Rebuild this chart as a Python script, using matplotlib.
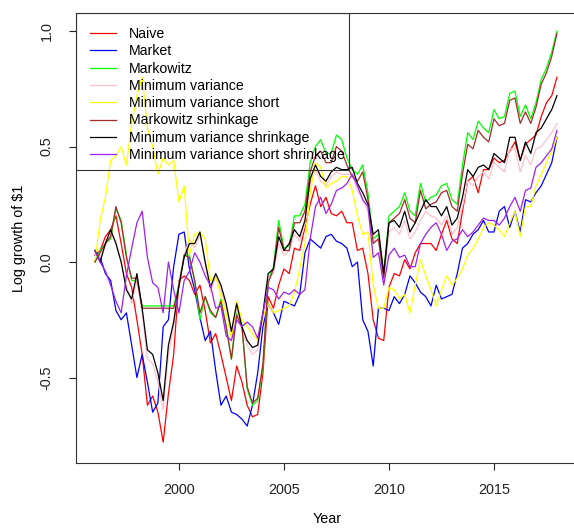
import numpy as np
import matplotlib
matplotlib.use("Agg")
import matplotlib.pyplot as plt
from matplotlib.patches import Rectangle

plt.rcParams['font.family'] = ['Liberation Sans', 'DejaVu Sans']
plt.rcParams['axes.unicode_minus'] = False

# quarterly grid, 1996 .. 2018
years = np.arange(1996.0, 2018.01, 0.25)

naive = [
    0.03, 0.05, 0.11, 0.14,
    0.20, 0.08, -0.05, -0.11,
    -0.25, -0.40, -0.62, -0.58,
    -0.65, -0.78, -0.57, -0.40,
    -0.08, -0.06, -0.08, -0.14,
    -0.10, -0.21, -0.35, -0.31,
    -0.40, -0.50, -0.60, -0.45,
    -0.52, -0.62, -0.67, -0.66,
    -0.48, -0.15, -0.20, -0.10,
    -0.03, -0.05, 0.06, 0.05,
    0.15, 0.25, 0.33, 0.24,
    0.28, 0.21, 0.20, 0.22,
    0.17, 0.17, 0.05, 0.06,
    -0.05, -0.25, -0.33, -0.34,
    -0.11, -0.05, -0.06, 0.01,
    -0.03, 0.04, 0.08, 0.08,
    0.08, 0.05, 0.12, 0.18,
    0.10, 0.08, 0.22, 0.35,
    0.37, 0.30, 0.40, 0.40,
    0.45, 0.43, 0.44, 0.48,
    0.52, 0.44, 0.51, 0.53,
    0.55, 0.63, 0.69, 0.72,
    0.80]

market = [
    0.05, 0.02, -0.05, -0.08,
    -0.21, -0.25, -0.22, -0.36,
    -0.50, -0.40, -0.52, -0.65,
    -0.61, -0.28, -0.25, -0.02,
    0.12, 0.13, -0.03, -0.12,
    -0.24, -0.34, -0.30, -0.47,
    -0.62, -0.58, -0.65, -0.66,
    -0.68, -0.71, -0.62, -0.48,
    -0.28, -0.18, -0.22, -0.27,
    -0.17, -0.18, -0.19, -0.14,
    0.04, 0.10, 0.08, 0.06,
    0.11, 0.12, 0.09, 0.08,
    0.06, -0.02, 0.00, -0.25,
    -0.30, -0.45, -0.20, -0.20,
    -0.21, -0.15, -0.18, -0.14,
    -0.06, -0.09, -0.13, -0.15,
    -0.19, -0.10, -0.16, -0.15,
    -0.14, -0.05, 0.06, 0.08,
    0.12, 0.14, 0.18, 0.13,
    0.13, 0.22, 0.24, 0.15,
    0.22, 0.13, 0.27, 0.26,
    0.30, 0.33, 0.38, 0.43,
    0.54]

markowitz = [
    0.00, 0.05, 0.08, 0.10,
    0.23, 0.18, 0.03, -0.08,
    -0.08, -0.19, -0.19, -0.19,
    -0.19, -0.19, -0.19, -0.19,
    -0.10, 0.03, 0.03, -0.08,
    -0.25, -0.15, -0.22, -0.24,
    -0.16, -0.28, -0.42, -0.22,
    -0.27, -0.55, -0.62, -0.60,
    -0.45, -0.08, -0.02, 0.18,
    0.06, 0.07, 0.20, 0.20,
    0.25, 0.43, 0.50, 0.53,
    0.47, 0.47, 0.55, 0.53,
    0.45, 0.40, 0.38, 0.42,
    0.30, 0.10, 0.12, -0.05,
    0.20, 0.22, 0.24, 0.30,
    0.22, 0.20, 0.34, 0.26,
    0.28, 0.29, 0.33, 0.34,
    0.27, 0.25, 0.42, 0.56,
    0.53, 0.61, 0.58, 0.56,
    0.66, 0.62, 0.63, 0.73,
    0.74, 0.63, 0.68, 0.62,
    0.69, 0.79, 0.84, 0.91,
    1.00]

min_var = [
    0.04, 0.02, 0.07, 0.12,
    0.09, 0.00, -0.10, -0.18,
    -0.08, -0.22, -0.42, -0.44,
    -0.52, -0.64, -0.40, -0.28,
    -0.09, 0.03, 0.10, 0.06,
    0.12, -0.01, -0.13, -0.06,
    -0.12, -0.20, -0.33, -0.20,
    -0.30, -0.36, -0.40, -0.38,
    -0.24, -0.07, -0.05, 0.08,
    0.03, 0.05, 0.12, 0.09,
    0.16, 0.34, 0.40, 0.35,
    0.33, 0.37, 0.39, 0.38,
    0.38, 0.38, 0.31, 0.27,
    0.22, 0.09, 0.10, -0.08,
    0.13, 0.15, 0.12, 0.18,
    0.10, 0.13, 0.18, 0.22,
    0.20, 0.19, 0.16, 0.20,
    0.12, 0.15, 0.24, 0.35,
    0.33, 0.37, 0.39, 0.36,
    0.43, 0.41, 0.39, 0.49,
    0.49, 0.39, 0.46, 0.42,
    0.49, 0.50, 0.53, 0.56,
    0.60]

min_var_short = [
    0.00, 0.18, 0.28, 0.44,
    0.46, 0.50, 0.42, 0.60,
    0.72, 0.80, 0.58, 0.50,
    0.38, 0.45, 0.42, 0.44,
    0.26, 0.33, 0.03, 0.12,
    0.13, 0.10, -0.08, -0.06,
    -0.15, -0.22, -0.33, -0.17,
    -0.25, -0.28, -0.31, -0.34,
    -0.24, -0.18, -0.22, -0.21,
    -0.20, -0.19, -0.13, -0.03,
    0.08, 0.30, 0.43, 0.41,
    0.32, 0.34, 0.35, 0.37,
    0.37, 0.31, 0.20, 0.12,
    0.13, -0.10, -0.20, -0.20,
    -0.11, -0.12, -0.16, -0.14,
    -0.22, -0.10, 0.01, -0.06,
    -0.12, -0.19, -0.12, -0.06,
    -0.10, -0.07, -0.03, 0.03,
    0.06, 0.10, 0.15, 0.17,
    0.16, 0.14, 0.11, 0.17,
    0.22, 0.11, 0.24, 0.24,
    0.33, 0.38, 0.43, 0.48,
    0.54]

markowitz_shrink = [
    0.00, 0.04, 0.08, 0.11,
    0.24, 0.17, 0.02, -0.07,
    -0.07, -0.20, -0.20, -0.20,
    -0.20, -0.20, -0.20, -0.20,
    -0.11, 0.03, 0.02, -0.08,
    -0.22, -0.15, -0.21, -0.24,
    -0.17, -0.28, -0.42, -0.23,
    -0.28, -0.54, -0.61, -0.59,
    -0.44, -0.09, -0.03, 0.15,
    0.05, 0.05, 0.17, 0.17,
    0.22, 0.39, 0.46, 0.48,
    0.43, 0.43, 0.50, 0.48,
    0.42, 0.37, 0.35, 0.39,
    0.27, 0.08, 0.10, -0.07,
    0.17, 0.19, 0.21, 0.27,
    0.19, 0.17, 0.31, 0.23,
    0.25, 0.26, 0.30, 0.31,
    0.24, 0.22, 0.38, 0.51,
    0.49, 0.57, 0.54, 0.52,
    0.62, 0.59, 0.60, 0.70,
    0.71, 0.60, 0.65, 0.60,
    0.67, 0.77, 0.82, 0.89,
    0.99]

min_var_shrink = [
    0.05, 0.00, 0.08, 0.14,
    0.08, 0.00, -0.12, -0.16,
    -0.05, -0.20, -0.38, -0.40,
    -0.48, -0.60, -0.36, -0.26,
    -0.10, 0.02, 0.08, 0.08,
    0.13, 0.00, -0.11, -0.05,
    -0.10, -0.18, -0.30, -0.18,
    -0.28, -0.34, -0.37, -0.36,
    -0.22, -0.05, -0.03, 0.11,
    0.05, 0.08, 0.14, 0.11,
    0.18, 0.36, 0.42, 0.37,
    0.35, 0.39, 0.41, 0.40,
    0.40, 0.41, 0.34, 0.30,
    0.25, 0.12, 0.14, -0.05,
    0.17, 0.18, 0.15, 0.22,
    0.13, 0.17, 0.22, 0.27,
    0.24, 0.24, 0.20, 0.24,
    0.16, 0.19, 0.28, 0.40,
    0.37, 0.41, 0.42, 0.40,
    0.47, 0.45, 0.43, 0.54,
    0.54, 0.44, 0.52, 0.47,
    0.56, 0.58, 0.62, 0.66,
    0.72]

min_var_short_shrink = [
    0.05, 0.00, -0.04, -0.10,
    -0.17, -0.22, -0.06, 0.06,
    0.17, 0.22, 0.02, -0.09,
    -0.11, -0.22, 0.00, -0.12,
    -0.22, -0.08, -0.04, 0.04,
    0.00, -0.06, -0.10, -0.20,
    -0.19, -0.32, -0.34, -0.25,
    -0.28, -0.26, -0.28, -0.33,
    -0.22, -0.11, -0.12, -0.16,
    -0.13, -0.14, -0.12, -0.14,
    -0.12, 0.10, 0.24, 0.28,
    0.21, 0.25, 0.31, 0.32,
    0.34, 0.38, 0.33, 0.27,
    0.24, 0.02, 0.04, -0.10,
    0.03, 0.06, 0.02, 0.03,
    -0.02, -0.02, 0.08, 0.12,
    0.15, 0.17, 0.12, 0.05,
    0.09, 0.10, 0.14, 0.11,
    0.13, 0.16, 0.19, 0.18,
    0.18, 0.16, 0.19, 0.24,
    0.28, 0.22, 0.31, 0.32,
    0.41, 0.43, 0.46, 0.49,
    0.57]

labels = ["Naive", "Market", "Markowitz", "Minimum variance",
          "Minimum variance short", "Markowitz srhinkage",
          "Minimum variance shrinkage", "Minimum variance short shrinkage"]
colors = ["#FF0000", "#0000FF", "#00FF00", "#FFC0CB",
          "#FFFF00", "#A52A2A", "#000000", "#A020F0"]
series = [naive, market, markowitz, min_var, min_var_short,
          markowitz_shrink, min_var_shrink, min_var_short_shrink]

W, H = 574, 531
FS = 10.4
fig = plt.figure(figsize=(W / 100, H / 100), dpi=100)
ax = fig.add_axes([76 / W, 1 - 463 / H, 502 / W, 450 / H])

for vals, col, lab in zip(series, colors, labels):
    ax.plot(years, vals, color=col, lw=0.9, label=lab)

ax.set_xlim(1995.1, 2019.0)
ax.set_ylim(-0.870, 1.078)
ax.set_xticks([2000, 2005, 2010, 2015])
ax.set_yticks([-0.5, 0.0, 0.5, 1.0])
ax.set_yticklabels(["-0.5", "0.0", "0.5", "1.0"], rotation=90, va="center")
ax.tick_params(direction="out", length=5, width=0.8, labelsize=FS,
               colors="#222222")
ax.tick_params(axis="x", pad=9.5)
ax.tick_params(axis="y", pad=11)
for s in ax.spines.values():
    s.set_linewidth(0.8)
    s.set_color("#333333")

ax.set_xlabel("Year", fontsize=FS, labelpad=11)
ax.set_ylabel("Log growth of $1", fontsize=FS, labelpad=10)

# legend entries without frame; box drawn separately, tight on the right
ax.legend(loc="upper left", bbox_to_anchor=(0, 1), borderaxespad=0,
          fontsize=10.2, frameon=False,
          handlelength=1.85, handletextpad=0.9, labelspacing=0.23,
          borderpad=1.0)
ax.add_patch(Rectangle((0, 0.651), 0.544, 0.349, transform=ax.transAxes,
                       fill=False, edgecolor="#333333", lw=0.8, zorder=5))

fig.savefig("out.png", dpi=100)
